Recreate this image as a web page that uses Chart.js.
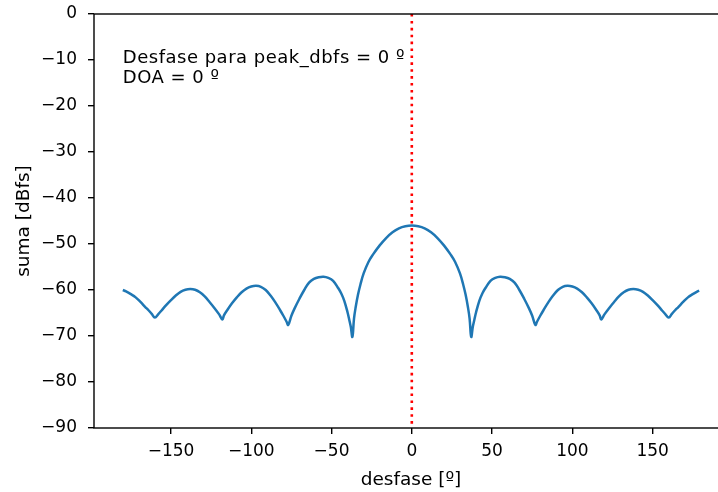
<!DOCTYPE html>
<html>
<head>
<meta charset="utf-8">
<script src="https://cdn.jsdelivr.net/npm/chart.js@4.4.0/dist/chart.umd.min.js"></script>
<style>
  html, body { margin: 0; padding: 0; background: #fff; overflow: hidden; }
  #chart { display: block; }
</style>
</head>
<body>
<canvas id="chart" width="732" height="492"></canvas>
<script>
// phase shift in degrees
var desfase = [-180, -178, -175, -172, -169, -166, -164, -162, -160, -158, -156, -153, -150, -147, -144, -141, -138, -135, -132, -129,
               -126, -123, -120, -118, -117, -115, -112, -109, -106, -103, -100, -97, -94, -91, -88, -85, -82, -80, -78, -77,
               -75, -73, -70, -67, -64, -61, -58, -55, -52, -49, -46, -44, -42, -40, -39, -38, -37, -36, -35, -33.5,
               -32, -30, -27, -24, -20, -16, -12, -8, -4,
               0,
               4, 8, 12, 16, 20, 24, 27, 30, 32, 33.5, 35, 36, 37, 38, 39, 40, 42, 44, 46, 49,
               52, 55, 58, 61, 64, 67, 70, 73, 75, 77, 78, 80, 82, 85, 88, 91, 94, 97, 100, 103,
               106, 109, 112, 115, 117, 118, 120, 123, 126, 129, 132, 135, 138, 141, 144, 147, 150, 153, 156, 158,
               160, 162, 164, 166, 169, 172, 175, 178, 179];
// summed power in dBfs
var suma = [-60.0, -60.3, -60.9, -61.6, -62.6, -63.7, -64.4, -65.2, -66.0, -65.3, -64.5, -63.3, -62.2, -61.2, -60.4, -59.95, -59.8, -59.95, -60.5, -61.4,
            -62.6, -63.9, -65.3, -66.4, -65.5, -64.4, -62.9, -61.6, -60.5, -59.7, -59.25, -59.1, -59.3, -60.0, -61.2, -62.7, -64.4, -65.6, -66.9, -67.6,
            -65.6, -64.0, -61.9, -60.0, -58.4, -57.6, -57.22, -57.1, -57.35, -58.0, -59.5, -60.7, -62.4, -64.9, -66.4, -68.0, -70.2, -66.2, -63.8, -61.0,
            -58.8, -56.4, -53.9, -52.2, -50.3, -48.7, -47.45, -46.6, -46.15,
            -46.0,
            -46.15, -46.6, -47.45, -48.7, -50.3, -52.2, -53.9, -56.4, -58.8, -61.0, -63.8, -66.2, -70.2, -68.0, -66.4, -64.9, -62.4, -60.7, -59.5, -58.0,
            -57.35, -57.1, -57.22, -57.6, -58.4, -60.0, -61.9, -64.0, -65.6, -67.6, -66.9, -65.6, -64.4, -62.7, -61.2, -60.0, -59.3, -59.1, -59.25, -59.7,
            -60.5, -61.6, -62.9, -64.4, -65.5, -66.4, -65.3, -63.9, -62.6, -61.4, -60.5, -59.95, -59.8, -59.95, -60.4, -61.2, -62.2, -63.3, -64.5, -65.3,
            -66.0, -65.2, -64.4, -63.7, -62.6, -61.6, -60.9, -60.3, -60.15];

var picoDesfase = 0;
var xTicks = [-150, -100, -50, 0, 50, 100, 150];
var yMin = -90, yMax = 0;
var notas = ["Desfase para peak_dbfs = 0 º", "DOA = 0 º"];

Chart.defaults.font.family = "'DejaVu Sans', sans-serif";
Chart.defaults.font.size = 17;
Chart.defaults.color = "#000";

function menos(v) {
  return String(v).replace("-", "\u2212");
}

// frame around the axes + text box
var marco = {
  id: "marco",
  afterDatasetsDraw: function(chart) {
    var ctx = chart.ctx, a = chart.chartArea;
    ctx.save();
    ctx.strokeStyle = "#000";
    ctx.lineWidth = 1.4;
    ctx.strokeRect(a.left, a.top, a.right - a.left, a.bottom - a.top);
    var x = chart.scales.x.getPixelForValue(-180);
    var y = chart.scales.y.getPixelForValue(-15);
    ctx.fillStyle = "#000";
    ctx.font = "18px 'DejaVu Sans'";
    ctx.letterSpacing = "0.5px";
    ctx.textAlign = "left";
    ctx.textBaseline = "alphabetic";
    for (var i = 0; i < notas.length; i++) {
      ctx.fillText(notas[i], x, y - (notas.length - 1 - i) * 20);
    }
    ctx.restore();
  }
};

var ctx = document.getElementById("chart").getContext("2d");
var chart = new Chart(ctx, {
  type: "line",
  data: {
    datasets: [
      {
        data: [{x: picoDesfase, y: yMax}, {x: picoDesfase, y: yMin}],
        borderColor: "#ff0000",
        borderWidth: 2.6,
        borderDash: [2.6, 4.3],
        pointRadius: 0,
        order: 0
      },
      {
        data: desfase.map(function(d, i) { return {x: d, y: suma[i]}; }),
        borderColor: "#1f77b4",
        borderWidth: 2.5,
        pointRadius: 0,
        tension: 0.4,
        order: 1
      }
    ]
  },
  options: {
    responsive: false,
    animation: false,
    layout: { padding: { top: 14, right: 4, left: 0, bottom: 0 } },
    plugins: { legend: { display: false }, tooltip: { enabled: false } },
    scales: {
      x: {
        type: "linear",
        min: -197.95,
        max: 196.95,
        afterBuildTicks: function(scale) {
          scale.ticks = xTicks.map(function(v) { return {value: v}; });
        },
        afterFit: function(scale) { scale.height = 64; },
        ticks: {
          autoSkip: false,
          maxRotation: 0,
          padding: 7,
          callback: function(v) { return menos(v); }
        },
        grid: { drawOnChartArea: false, tickLength: 6, lineWidth: 1.4, color: "#000" },
        border: { display: false },
        title: { display: true, text: "desfase [º]", font: { size: 18.5 }, padding: { top: 0, bottom: 1 } }
      },
      y: {
        min: yMin,
        max: yMax,
        afterFit: function(scale) {
          scale.width = 94;
          scale.paddingTop = 0;
          scale.paddingBottom = 0;
        },
        ticks: {
          stepSize: 10,
          padding: 11,
          callback: function(v) { return menos(v); }
        },
        grid: { drawOnChartArea: false, tickLength: 6, lineWidth: 1.4, color: "#000" },
        border: { display: false },
        title: { display: true, text: "suma [dBfs]", font: { size: 18.5 }, padding: { top: 13, bottom: 0 } }
      }
    }
  },
  plugins: [marco]
});
</script>
</body>
</html>
